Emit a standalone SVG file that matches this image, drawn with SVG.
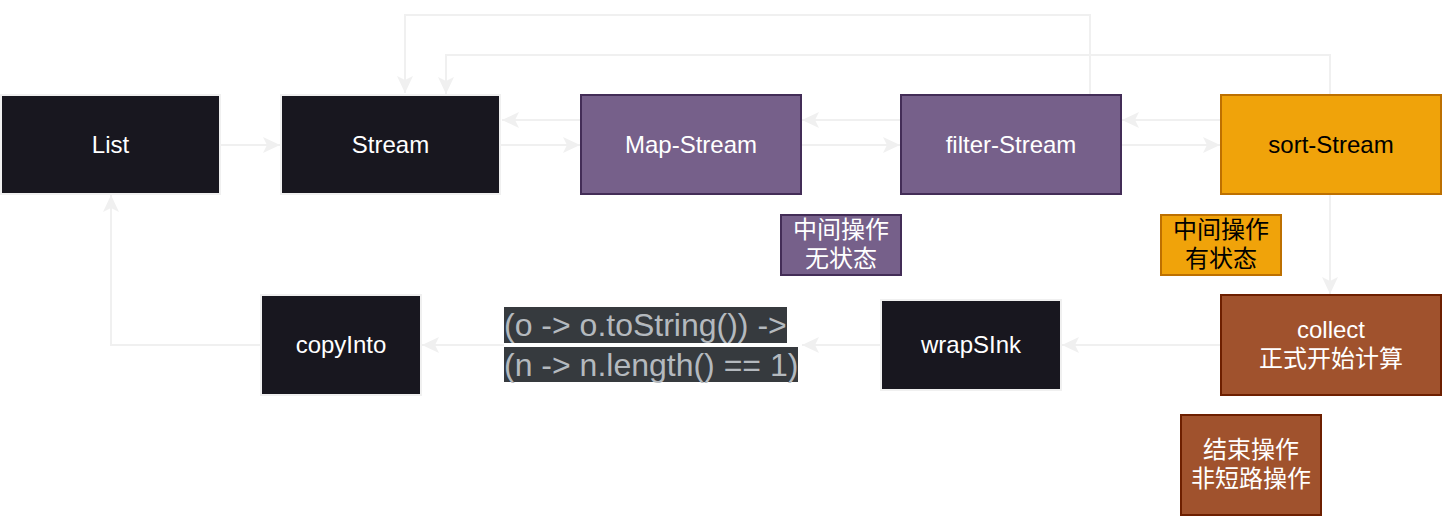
<svg xmlns="http://www.w3.org/2000/svg" width="1442" height="516" viewBox="0 0 1442 516">
<style>
.n{font-family:"Liberation Sans","Noto Sans CJK SC",Arial,sans-serif;font-size:24px;text-anchor:middle}
.dark{fill:#18171f;stroke:#f0f0f0;stroke-width:2}
.purple{fill:#76608a;stroke:#432d57;stroke-width:2}
.orange{fill:#f0a30a;stroke:#bd7000;stroke-width:2}
.brown{fill:#a0522d;stroke:#6d1f00;stroke-width:2}
.w{fill:#ffffff}
.b{fill:#000000}
.e{fill:none;stroke:#f0f0f0;stroke-width:2;marker-end:url(#arr)}
.code{font-family:"Liberation Sans",Arial,sans-serif;font-size:32px;fill:#b4b9be}
</style>
<defs>
<marker id="arr" viewBox="0 0 18 18" refX="17" refY="9" markerWidth="18" markerHeight="18" markerUnits="userSpaceOnUse" orient="auto">
<path d="M0,1 L17,9 L0,17 L4,9 Z" fill="#f0f0f0"/>
</marker>
</defs>
<rect width="1442" height="516" fill="#ffffff"/>
<g id="connectors">
<path class="e" d="M220,145 H280"/>
<path class="e" d="M500,145 H580"/>
<path class="e" d="M581,120 H502"/>
<path class="e" d="M801,145 H900"/>
<path class="e" d="M901,120 H802"/>
<path class="e" d="M1121,145 H1220"/>
<path class="e" d="M1221,120 H1122"/>
<path class="e" d="M1090,95 V15 H405 V93"/>
<path class="e" d="M1330,95 V55 H446 V94"/>
<path class="e" d="M1330,194 V294"/>
<path class="e" d="M1221,345 H1062"/>
<path class="e" d="M881,345 H802"/>
<path class="e" d="M504,345 H422"/>
<path class="e" d="M261,345 H111 V195"/>
</g>
<g id="list"><rect class="dark" x="1" y="95" width="219" height="99"/><text class="n w" x="110.5" y="153">List</text></g>
<g id="stream"><rect class="dark" x="281" y="95" width="219" height="99"/><text class="n w" x="390.5" y="153">Stream</text></g>
<g id="map-stream"><rect class="purple" x="581" y="95" width="220" height="99"/><text class="n w" x="691" y="153">Map-Stream</text></g>
<g id="filter-stream"><rect class="purple" x="901" y="95" width="220" height="99"/><text class="n w" x="1011" y="153">filter-Stream</text></g>
<g id="sort-stream"><rect class="orange" x="1221" y="95" width="220" height="99"/><text class="n b" x="1331" y="153">sort-Stream</text></g>
<g id="note-stateless"><rect class="purple" x="781" y="215" width="120" height="60"/><text class="n w" x="841" y="238">中间操作</text><text class="n w" x="841" y="267">无状态</text></g>
<g id="note-stateful"><rect class="orange" x="1161" y="215" width="120" height="60"/><text class="n b" x="1221" y="238">中间操作</text><text class="n b" x="1221" y="267">有状态</text></g>
<g id="collect"><rect class="brown" x="1221" y="295" width="220" height="100"/><text class="n w" x="1331" y="338">collect</text><text class="n w" x="1331" y="367">正式开始计算</text></g>
<g id="note-terminal"><rect class="brown" x="1181" y="415" width="140" height="100"/><text class="n w" x="1251" y="458">结束操作</text><text class="n w" x="1251" y="487">非短路操作</text></g>
<g id="wrapsink"><rect class="dark" x="881" y="300" width="180" height="90"/><text class="n w" x="971" y="353">wrapSInk</text></g>
<g id="copyinto"><rect class="dark" x="261" y="295" width="160" height="100"/><text class="n w" x="341" y="353">copyInto</text></g>
<g id="code-label">
<rect x="504" y="307" width="283" height="36" fill="#363a3e"/>
<rect x="504" y="347" width="294" height="35" fill="#363a3e"/>
<text class="code" x="504" y="336">(o -&gt; o.toString()) -&gt;</text>
<text class="code" x="504" y="376">(n -&gt; n.length() == 1)</text>
</g>
</svg>
